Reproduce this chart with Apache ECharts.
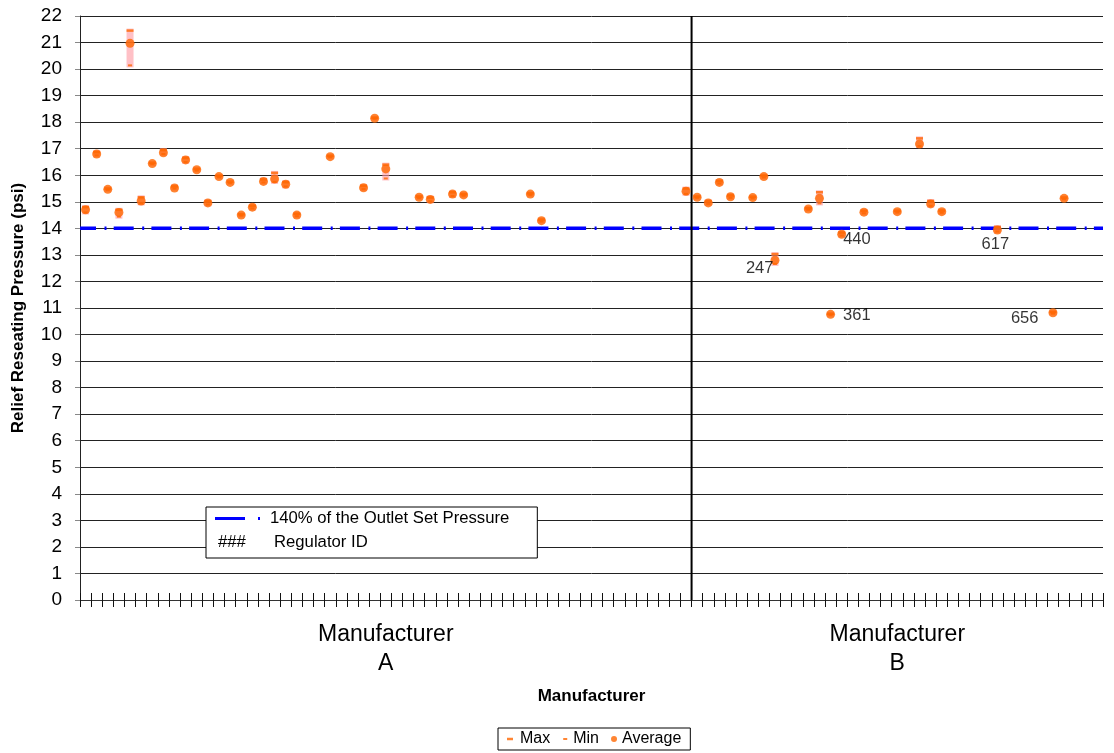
<!DOCTYPE html>
<html>
<head>
<meta charset="utf-8">
<script src="https://cdn.jsdelivr.net/npm/echarts@6/dist/echarts.min.js"></script>
<style>html,body{margin:0;padding:0;background:#fff}#c{width:1114px;height:753px}</style>
</head>
<body>
<div id="c"></div>
<script>
// ---- data ----
const groupNames = ['Manufacturer\nA', 'Manufacturer\nB'];
const groupSizes = [55, 37];
const yTicks = [0, 22, 1]; // min, max, step
const refPressure = 14;
const refName = '140% of the Outlet Set Pressure';
const idNote = ['###', 'Regulator ID'];

const slots = [0,1,2,3,4,5,6,7,8,9,10,11,12,13,14,15,16,17,18,19,22,25,26,27,30,31,33,34,40,41,
  54,55,56,57,58,60,61,62,65,66,67,68,70,73,75,76,77,82,87,88];
const avgVals = [14.70,16.80,15.47,14.60,20.97,15.03,16.44,16.85,15.52,16.58,16.21,14.96,15.95,15.73,14.50,14.80,15.77,15.86,15.66,14.50,16.70,15.53,18.15,16.24,15.17,15.09,15.29,15.26,15.29,14.29,
  15.40,15.17,14.96,15.73,15.19,15.16,15.95,12.80,14.73,15.13,10.76,13.78,14.61,14.63,17.18,14.92,14.63,13.94,10.82,15.13];
const maxVals = [14.80,16.87,15.50,14.70,21.45,15.17,16.47,16.95,15.58,16.65,16.24,15.02,15.98,15.76,14.53,14.85,15.84,16.09,15.74,14.55,16.73,15.60,18.17,16.40,15.20,15.16,15.36,15.29,15.32,14.33,
  15.50,15.20,15.02,15.78,15.24,15.19,15.99,13.03,14.76,15.36,10.78,13.84,14.66,14.66,17.39,15.03,14.67,14.05,10.85,15.16];
const minVals = [14.60,16.75,15.45,14.44,20.14,14.94,16.42,16.80,15.50,16.50,16.18,14.90,15.93,15.71,14.48,14.75,15.73,15.75,15.58,14.46,16.68,15.48,18.13,15.88,15.14,15.02,15.22,15.23,15.26,14.26,
  15.30,15.15,14.92,15.69,15.15,15.13,15.92,12.66,14.70,14.94,10.74,13.73,14.57,14.60,17.10,14.85,14.59,13.88,10.79,15.10];
const regIds = ['','','','','','','','','','','','','','','','','','','','','','','','','','','','','','',
  '','','','','','','','247','','','361','440','','','','','','617','656',''];

// ---- label placement (style, not data) ----
const labelPlace = {
  '247': {position: 'left', offset: [3, 8]},
  '361': {position: 'right', offset: [8, 1]},
  '440': {position: 'right', offset: [-3, 5]},
  '617': {position: 'bottom', offset: [-2, 1]},
  '656': {position: 'left', offset: [-10, 6]}
};

const nCat = groupSizes.reduce((a, b) => a + b, 0);
const categories = [];
for (let i = 0; i < nCat; i++) categories.push('c' + i);
const labelAt = {};
let start = 0;
groupSizes.forEach((s, g) => { labelAt[start + Math.floor(s / 2)] = groupNames[g]; start += s; });

const FONT = 'Liberation Sans, Arial, sans-serif';
const ORANGE = '#FF6600';

const avgData = slots.map((s, i) => {
  const item = {value: [s, avgVals[i]]};
  const id = regIds[i];
  if (id) {
    const p = labelPlace[id];
    item.label = {show: true, formatter: id, position: p.position, offset: p.offset, distance: 0,
      color: '#000', fontSize: 16.5, fontFamily: FONT};
  }
  return item;
});
const maxData = slots.map((s, i) => [s, maxVals[i]]);
const minData = slots.map((s, i) => [s, minVals[i]]);
const barData = slots.map((s, i) => [s, maxVals[i], minVals[i]]);

const chart = echarts.init(document.getElementById('c'), null, {renderer: 'canvas'});
chart.setOption({
  animation: false,
  backgroundColor: '#fff',
  textStyle: {fontFamily: FONT},
  grid: {left: 80, right: 11, top: 16, bottom: 153, containLabel: false},
  xAxis: [{
    type: 'category', data: categories, boundaryGap: true, position: 'bottom',
    name: 'Manufacturer', nameLocation: 'middle', nameGap: 88,
    nameTextStyle: {fontWeight: 'bold', fontSize: 17, color: '#000', fontFamily: FONT},
    axisLine: {lineStyle: {color: '#333', width: 1}},
    axisTick: {show: true, interval: 0, length: 7, lineStyle: {color: '#111'}},
    axisLabel: {interval: 0, margin: 20, fontSize: 23, lineHeight: 29, color: '#000', fontFamily: FONT,
      formatter: (v, idx) => labelAt[idx] || ''},
    splitLine: {show: false}
  }, {
    type: 'value', min: 0, max: nCat, interval: 1, position: 'bottom',
    axisLine: {show: false}, axisLabel: {show: false}, splitLine: {show: false},
    axisTick: {show: true, inside: true, length: 7, lineStyle: {color: '#111'}}
  }],
  yAxis: {
    type: 'value', min: yTicks[0], max: yTicks[1], interval: yTicks[2],
    name: 'Relief Reseating Pressure (psi)', nameLocation: 'middle', nameGap: 53,
    nameTextStyle: {fontWeight: 'bold', fontSize: 17, color: '#000', fontFamily: FONT},
    axisLine: {show: true, lineStyle: {color: '#222', width: 1}},
    axisTick: {show: true, length: 5, lineStyle: {color: '#888'}},
    axisLabel: {fontSize: 19, color: '#000', margin: 18, fontFamily: FONT},
    splitLine: {show: true, lineStyle: {color: '#222', width: 1}}
  },
  legend: [{
    orient: 'vertical', left: 206, top: 507,
    padding: [3, 28, 31, 9], borderColor: '#000', borderWidth: 1, backgroundColor: '#fff',
    itemWidth: 50, itemHeight: 3,
    textStyle: {fontSize: 16.7, color: '#000', fontFamily: FONT},
    data: [{name: refName, icon: 'path://M0,0h30v3h-30z M43,0h2v3h-2z M49.99,2.99h0.01v0.01h-0.01z'}]
  }, {
    orient: 'horizontal', left: 498, top: 728,
    padding: [3, 9, 3, 7], borderColor: '#000', borderWidth: 1, backgroundColor: '#fff',
    itemWidth: 10, itemHeight: 8, itemGap: 8,
    textStyle: {fontSize: 16, color: '#000', fontFamily: FONT},
    data: [
      {name: 'Max', icon: 'path://M0,0h0.01v0.01h-0.01z M2,2.8h6v2.4h-6z M9.99,7.99h0.01v0.01h-0.01z'},
      {name: 'Min', icon: 'path://M0,0h0.01v0.01h-0.01z M5,3h4v2h-4z M9.99,7.99h0.01v0.01h-0.01z'},
      {name: 'Average', icon: 'path://M0,0h0.01v0.01h-0.01z M10,4a3,3 0 1,1 -6,0a3,3 0 1,1 6,0z M9.99,7.99h0.01v0.01h-0.01z'}
    ]
  }],
  graphic: {
    elements: [
      {type: 'text', left: 218, top: 534, z: 100, zlevel: 0,
        style: {text: idNote[0], fontSize: 16.7, fill: '#000', fontFamily: FONT}},
      {type: 'text', left: 274, top: 534, z: 100, zlevel: 0,
        style: {text: idNote[1], fontSize: 16.7, fill: '#000', fontFamily: FONT}}
    ]
  },
  series: [
    {
      name: refName, type: 'line', xAxisIndex: 1, data: [[0, refPressure], [nCat, refPressure]],
      showSymbol: false, symbol: 'none', silent: true, z: 3,
      itemStyle: {color: '#0000FF'},
      lineStyle: {color: '#0000FF', width: 3.5, type: [20, 8.5, 2, 7.2], dashOffset: 4}
    },
    {
      name: 'divider', type: 'line', xAxisIndex: 1, data: [[groupSizes[0], yTicks[0]], [groupSizes[0], yTicks[1]]],
      showSymbol: false, symbol: 'none', silent: true, z: 4,
      lineStyle: {color: '#000', width: 2}
    },
    {
      name: 'range', type: 'custom', xAxisIndex: 0, data: barData, z: 5,
      encode: {x: 0, y: [1, 2]},
      renderItem: function (params, api) {
        const x = api.value(0);
        const top = api.coord([x, api.value(1)]);
        const bot = api.coord([x, api.value(2)]);
        const w = 7;
        return {type: 'rect', shape: {x: top[0] - w / 2, y: top[1] - 2, width: w, height: bot[1] - top[1] + 4},
          style: {fill: 'rgba(255,150,160,0.6)'}};
      }
    },
    {
      name: 'Average', type: 'scatter', xAxisIndex: 0, data: avgData, z: 6,
      symbol: 'circle', symbolSize: 9, itemStyle: {color: ORANGE}
    },
    {
      name: 'Max', type: 'scatter', xAxisIndex: 0, data: maxData, z: 7,
      symbol: 'rect', symbolSize: [7, 2.5], itemStyle: {color: ORANGE}
    },
    {
      name: 'Min', type: 'scatter', xAxisIndex: 0, data: minData, z: 7,
      symbol: 'rect', symbolSize: [4, 2], itemStyle: {color: ORANGE}
    }
  ]
});
</script>
</body>
</html>
